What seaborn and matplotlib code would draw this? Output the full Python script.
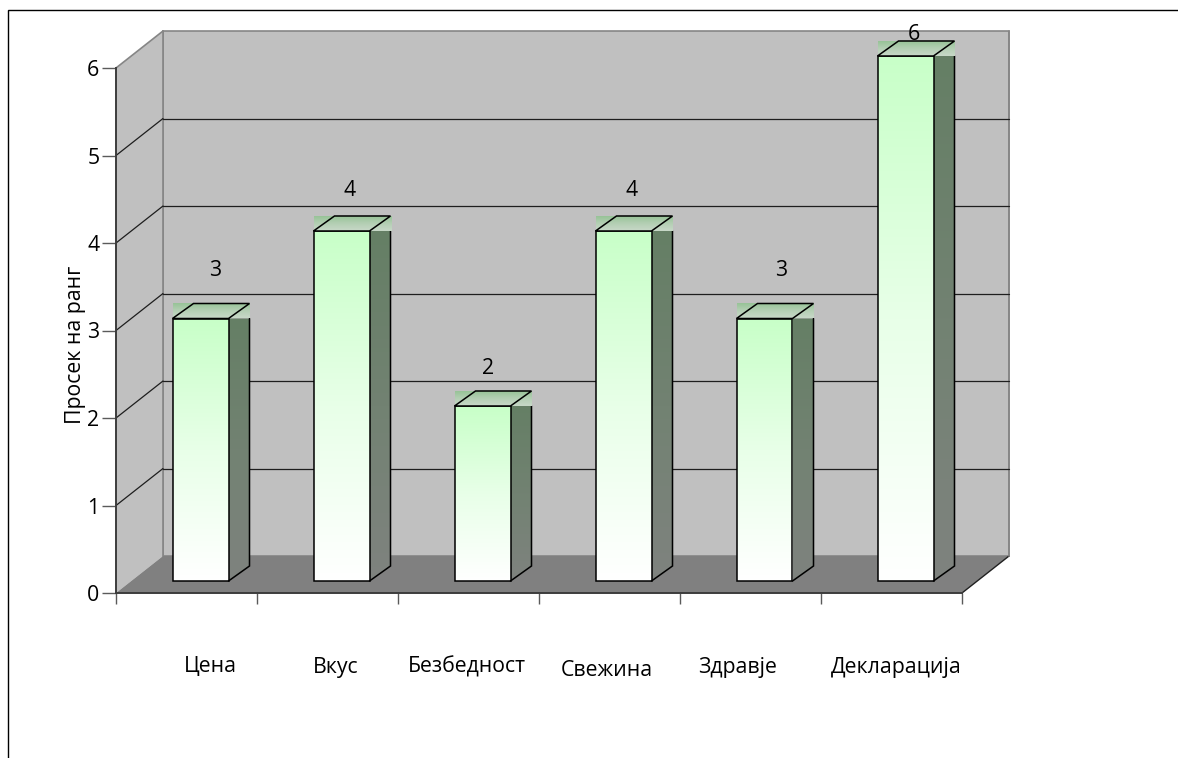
import matplotlib
matplotlib.use("Agg")
import numpy as np
import pandas as pd
import seaborn as sns
import matplotlib.pyplot as plt
from matplotlib.patches import Polygon, Rectangle
from matplotlib.colors import LinearSegmentedColormap

# ---- data -------------------------------------------------------------
categories = ["Цена", "Вкус", "Безбедност", "Свежина", "Здравје", "Декларација"]
mean_rank = [3, 4, 2, 4, 3, 6]
rank_ticks = [0, 1, 2, 3, 4, 5, 6]
y_title = "Просек на ранг"

# ---- layout (pixels) --------------------------------------------------
# value-label nudge (right, up) from the centre of the bar's front top edge
value_label_nudge = [(15, 48), (8, 40), (6, 38), (8, 40), (17, 48), (8, 22)]
# category-label nudge (right, down) from the category centre on the floor edge
cat_label_nudge = [(24, 74), (8, 74), (-2, 74), (-3, 77), (-13, 74), (5, 74)]

W, H, DPI = 1178, 758, 100
sns.set_style("white")
plt.rcParams["font.family"] = ["Open Sans", "DejaVu Sans"]
FS = 15.3
TXT = "#000000"

fig = plt.figure(figsize=(W / DPI, H / DPI), dpi=DPI)
fig.patch.set_facecolor("white")

X0, Y0 = 116, 593          # pixel of the front-left floor corner
PX_X, PX_Y = 141, 87.5     # pixels per category / per rank unit
XMIN, XMAX, YMAX = -0.5, 6.2, 6.6
ax = fig.add_axes([X0 / W, (H - Y0) / H, (XMAX - XMIN) * PX_X / W, YMAX * PX_Y / H])

df = pd.DataFrame({"category": categories, "rank": mean_rank})
sns.barplot(data=df, x="category", y="rank", order=categories, width=56 / 141,
            color="white", edgecolor="black", linewidth=1.1, ax=ax, zorder=3)
bars = list(ax.patches)

ax.set_xlim(XMIN, XMAX)
ax.set_ylim(0, YMAX)
ax.set_facecolor("none")
ax.set_xlabel("")
ax.set_ylabel("")

bb = ax.get_window_extent()
ux = (XMAX - XMIN) / bb.width   # data units per pixel
uy = YMAX / bb.height

wdx, wdy = 47 * ux, 37 * uy     # depth of the walls
box, boy = 14 * ux, 12 * uy     # bars sit half-way into the depth
bdx, bdy = 21 * ux, 15 * uy     # depth of each bar

left, right, ytop = -0.5, 5.5, 6

# ---- walls and floor ---------------------------------------------------
wall_c, wall_edge = "#c0c0c0", "#868686"
ax.add_patch(Rectangle((left + wdx, wdy), right - left, ytop, fc=wall_c,
                       ec=wall_edge, lw=1.2, zorder=0.5))
ax.add_patch(Polygon([(left, 0), (left + wdx, wdy), (left + wdx, ytop + wdy), (left, ytop)],
                     closed=True, fc=wall_c, ec="none", zorder=0.5))
ax.plot([left, left + wdx], [ytop, ytop + wdy], color=wall_edge, lw=1.2, zorder=0.55)
ax.plot([left + wdx, left + wdx], [wdy, ytop + wdy], color=wall_edge, lw=1.2, zorder=0.55)
ax.add_patch(Polygon([(left, 0), (right, 0), (right + wdx, wdy), (left + wdx, wdy)],
                     closed=True, fc="#808080", ec="none", zorder=0.6))
ax.plot([right, right + wdx], [0, wdy], color="#202020", lw=1.0, zorder=0.65)
ax.plot([right + wdx, right + wdx], [wdy, ytop + wdy], color=wall_edge, lw=1.2, zorder=0.65)

for v in rank_ticks[1:-1]:
    ax.plot([left + wdx, right + wdx], [v + wdy, v + wdy], color="#1e1e1e", lw=0.9, zorder=0.7)
    ax.plot([left, left + wdx], [v, v + wdy], color="#1e1e1e", lw=0.9, zorder=0.7)

# ---- bars ----------------------------------------------------------------
front_cmap = LinearSegmentedColormap.from_list("front", ["#c8ffc8", "#e8ffe8", "#ffffff"])
side_cmap = LinearSegmentedColormap.from_list("side", ["#657f65", "#728272", "#7f837f"])
top_cmap = LinearSegmentedColormap.from_list("top", ["#97c397", "#b4cfb4", "#c8d8c8"])
grad = np.linspace(0, 1, 256)[:, None]

for i, (p, v) in enumerate(zip(bars, mean_rank)):
    w = p.get_width()
    x0 = p.get_x() + box
    p.set_x(x0)
    p.set_y(p.get_y() + boy)
    p.set_facecolor("none")
    x1 = x0 + w
    base = boy
    top = boy + v

    ax.imshow(grad, extent=[x0, x1, base, top], cmap=front_cmap, aspect="auto",
              interpolation="bilinear", zorder=2.9)

    side = Polygon([(x1, top), (x1 + bdx, top), (x1 + bdx, base + bdy), (x1, base)],
                   closed=True, fc="none", ec="none", zorder=2.8)
    ax.add_patch(side)
    im = ax.imshow(grad, extent=[x1, x1 + bdx, base, top], cmap=side_cmap, aspect="auto",
                   interpolation="bilinear", zorder=2.8)
    im.set_clip_path(side)
    ax.plot([x1 + bdx, x1 + bdx, x1], [top, base + bdy, base], color="black", lw=1.1,
            zorder=3.1, solid_joinstyle="miter")

    ax.imshow(grad, extent=[x0, x1 + bdx, top, top + bdy], cmap=top_cmap, aspect="auto",
              interpolation="bilinear", zorder=3.2)
    ax.add_patch(Polygon([(x0, top), (x1, top), (x1 + bdx, top + bdy), (x0 + bdx, top + bdy)],
                         closed=True, fill=False, ec="black", lw=1.1, zorder=3.3,
                         joinstyle="miter"))

    nx, ny = value_label_nudge[i]
    ax.text(x0 + w / 2 + nx * ux, top + ny * uy, f"{v:g}", ha="center", va="center",
            fontsize=FS, color=TXT, zorder=5)

for i, cat in enumerate(categories):
    nx, ny = cat_label_nudge[i]
    ax.text(i + nx * ux, -ny * uy, cat, ha="center", va="center", fontsize=FS,
            color=TXT, clip_on=False)

ax.set_xlim(XMIN, XMAX)
ax.set_ylim(0, YMAX)

# ---- axes ------------------------------------------------------------------
for s in ("top", "right"):
    ax.spines[s].set_visible(False)
ax.spines["left"].set_bounds(0, 6)
ax.spines["bottom"].set_bounds(left, right)
for s in ("left", "bottom"):
    ax.spines[s].set_color("#3c3c3c")
    ax.spines[s].set_linewidth(1.4)
    ax.spines[s].set_zorder(4)

ax.set_xticks([])
ax.set_xticks(np.arange(left, right + 0.01, 1), minor=True)
ax.tick_params(axis="x", which="minor", bottom=True, length=8, width=1,
               color="#5a5a5a", direction="out")
ax.set_yticks(rank_ticks)
ax.set_yticklabels([str(t) for t in rank_ticks])
ax.tick_params(axis="y", which="major", left=True, length=10, width=1, color="#5a5a5a",
               direction="out", pad=2, labelsize=FS, labelcolor=TXT)

fig.text(76 / W, 1 - 345 / H, y_title, rotation=90, ha="center", va="center",
         fontsize=FS, color=TXT)

# chart frame
fig.add_artist(Rectangle((8 / W, -0.05), 1.1, 1 - 10 / H + 0.05, transform=fig.transFigure,
                         fill=False, ec="black", lw=1.0))

fig.savefig("out.png", dpi=DPI)
